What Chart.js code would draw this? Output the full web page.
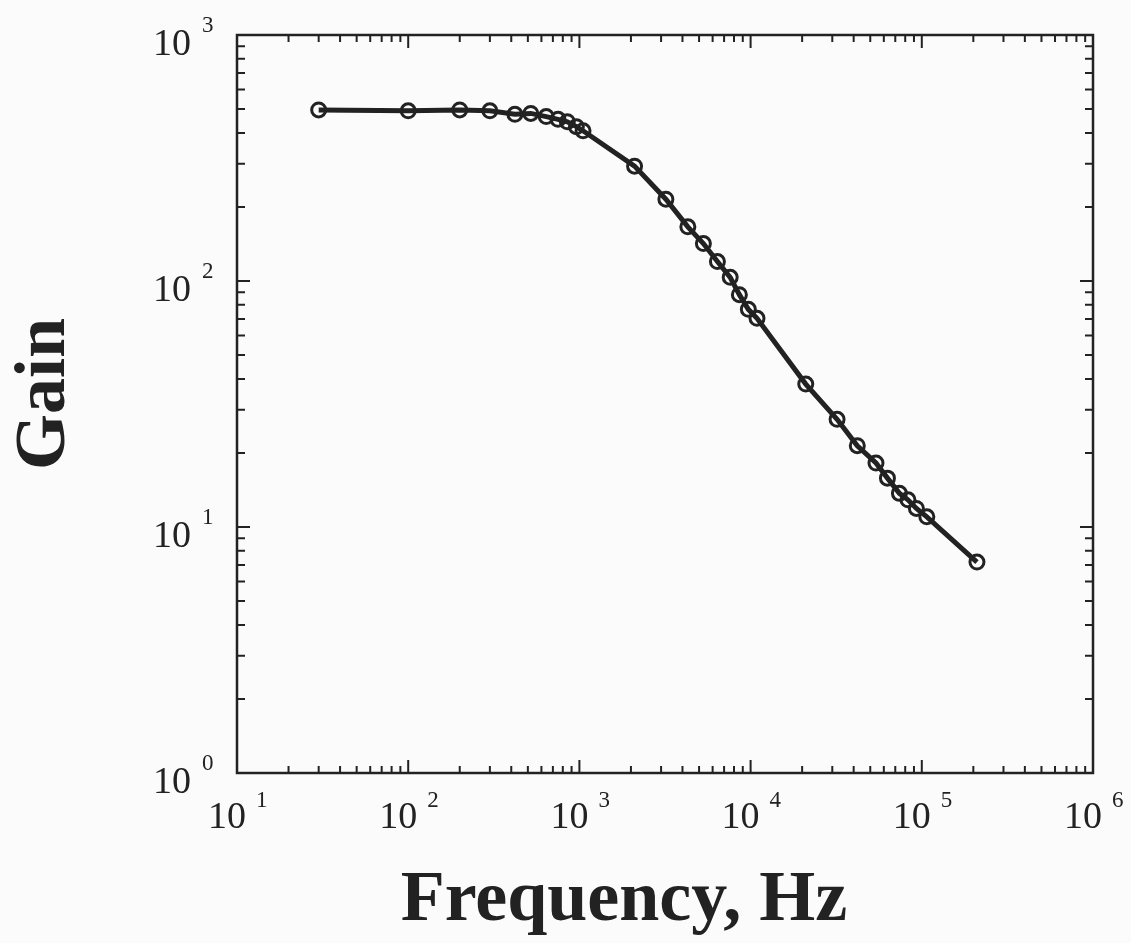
<!DOCTYPE html>
<html>
<head>
<meta charset="utf-8">
<script src="https://cdn.jsdelivr.net/npm/chart.js@4/dist/chart.umd.min.js"></script>
<style>
  html, body { margin: 0; padding: 0; background: #fbfbfb; }
  #wrap { width: 1131px; height: 943px; }
</style>
</head>
<body>
<div id="wrap"><canvas id="gain-chart" width="1131" height="943"></canvas></div>
<script>
// frequency (Hz) and gain
const frequency = [30, 100, 200, 300, 420, 520, 640, 750, 850, 960, 1050, 2100, 3200, 4300, 5300, 6400, 7600, 8600, 9700, 10900, 21000, 32000, 42000, 54000, 63000, 74000, 83000, 93000, 107000, 210000];
const gain = [496, 492, 496, 492, 476, 480, 466, 454, 444, 424, 408, 293, 215, 166, 142, 120, 103.5, 88, 76.7, 70.5, 38.1, 27.4, 21.4, 18.2, 15.8, 13.7, 12.9, 11.9, 11.0, 7.2];

const xDecades = [1, 2, 3, 4, 5, 6];
const yDecades = [0, 1, 2, 3];

const ink = '#222222';

const framePlugin = {
    id: 'frame',
    afterDraw(chart) {
        const ctx = chart.ctx;
        const a = chart.chartArea;
        const xs = chart.scales.x, ys = chart.scales.y;
        ctx.save();
        ctx.strokeStyle = ink;
        ctx.fillStyle = ink;
        ctx.lineWidth = 2.5;
        ctx.strokeRect(a.left, a.top, a.right - a.left, a.bottom - a.top);

        // ticks, drawn inward on all four sides
        ctx.lineWidth = 2;
        function tickX(v, len) {
            const px = xs.getPixelForValue(v);
            ctx.beginPath();
            ctx.moveTo(px, a.bottom); ctx.lineTo(px, a.bottom - len);
            ctx.moveTo(px, a.top); ctx.lineTo(px, a.top + len);
            ctx.stroke();
        }
        function tickY(v, len) {
            const py = ys.getPixelForValue(v);
            ctx.beginPath();
            ctx.moveTo(a.left, py); ctx.lineTo(a.left + len, py);
            ctx.moveTo(a.right, py); ctx.lineTo(a.right - len, py);
            ctx.stroke();
        }
        xDecades.forEach(d => {
            tickX(Math.pow(10, d), 13);
            if (d < 6) for (let m = 2; m <= 9; m++) tickX(m * Math.pow(10, d), 7);
        });
        yDecades.forEach(d => {
            tickY(Math.pow(10, d), 13);
            if (d < 3) for (let m = 2; m <= 9; m++) tickY(m * Math.pow(10, d), 8);
        });

        // tick labels as 10 with superscript
        const big = '38px "Liberation Serif", "Times New Roman", serif';
        const small = '23px "Liberation Serif", "Times New Roman", serif';
        xDecades.forEach(d => {
            const px = xs.getPixelForValue(Math.pow(10, d));
            ctx.font = big;
            ctx.textAlign = 'center';
            ctx.textBaseline = 'alphabetic';
            ctx.fillText('10', px - 10, a.bottom + 55);
            ctx.font = small;
            ctx.textAlign = 'left';
            ctx.fillText(String(d), px + 19, a.bottom + 34);
        });
        yDecades.forEach(d => {
            const py = ys.getPixelForValue(Math.pow(10, d));
            ctx.font = big;
            ctx.textAlign = 'right';
            ctx.textBaseline = 'alphabetic';
            ctx.fillText('10', a.left - 46, py + 20);
            ctx.font = small;
            ctx.textAlign = 'left';
            ctx.fillText(String(d), a.left - 35, py - 3);
        });

        // axis titles
        ctx.font = 'bold 72px "Liberation Serif", "Times New Roman", serif';
        ctx.textAlign = 'center';
        ctx.fillText('Frequency, Hz', 624, 920);
        ctx.save();
        ctx.translate(64, 394);
        ctx.rotate(-Math.PI / 2);
        ctx.font = 'bold 72px "Liberation Serif", "Times New Roman", serif';
        ctx.fillText('Gain', 0, 0);
        ctx.restore();
        ctx.restore();
    }
};

const points = frequency.map((f, i) => ({ x: f, y: gain[i] }));

new Chart(document.getElementById('gain-chart').getContext('2d'), {
    type: 'scatter',
    data: {
        datasets: [{
            label: 'Gain',
            data: points,
            showLine: true,
            borderColor: ink,
            borderWidth: 5,
            pointRadius: 7,
            pointBorderWidth: 3,
            pointBorderColor: ink,
            pointBackgroundColor: 'rgba(0,0,0,0)',
            clip: false
        }]
    },
    options: {
        responsive: false,
        animation: false,
        devicePixelRatio: 1,
        layout: { padding: { left: 237, right: 38, top: 35, bottom: 170 } },
        plugins: { legend: { display: false }, tooltip: { enabled: false } },
        scales: {
            x: { type: 'logarithmic', min: 10, max: 1000000, display: false },
            y: { type: 'logarithmic', min: 1, max: 1000, display: false }
        }
    },
    plugins: [framePlugin]
});
</script>
</body>
</html>
